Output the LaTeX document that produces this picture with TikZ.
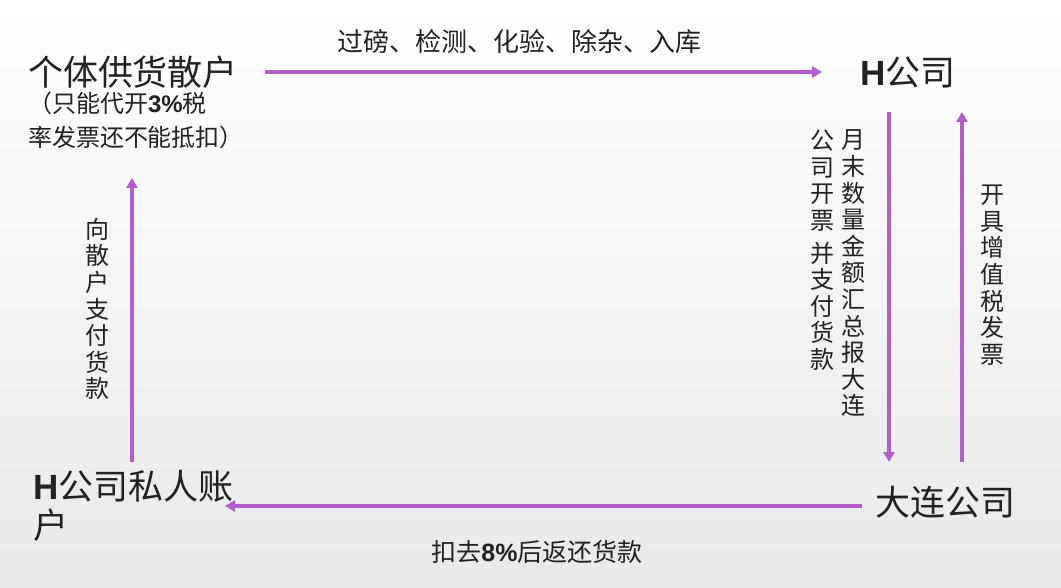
\documentclass[tikz,border=0pt]{standalone}
\usepackage{fontspec}
\setmainfont{Noto Sans CJK SC}
\newfontfamily\lat{Liberation Sans}
\usetikzlibrary{arrows.meta}
\definecolor{arrowc}{HTML}{B35DC9}
\definecolor{txt}{HTML}{222222}
\begin{document}
\begin{tikzpicture}[x=1pt,y=-1pt,
  every node/.style={inner sep=0pt,outer sep=0pt,text=txt},
  big/.style={font=\fontsize{35}{39}\selectfont},
  mid/.style={font=\fontsize{24}{34}\selectfont},
  vcol/.style={font=\fontsize{24}{26.6}\selectfont,align=center,anchor=north},
  arr/.style={draw=arrowc,line width=3.5pt,-{Triangle[length=10pt,width=11pt]}}]
\shade[top color=white,bottom color={rgb,255:red,232;green,233;blue,235}] (0,0) rectangle (1061,588);
\useasboundingbox (0,0) rectangle (1061,588);
% nodes
\node[big,anchor=west] (sanhu) at (28,72) {个体供货散户};
\node[mid,anchor=north west,align=left] (note) at (28,92) {（只能代开{\lat\bfseries 3\%}税\\率发票还不能抵扣）};
\node[big,anchor=west] (hco) at (860,72) {{\lat\bfseries H}公司};
\node[big,anchor=west] (dalian) at (875,502) {大连公司};
\node[big,anchor=north west,align=left] (hacct) at (33,470) {{\lat\bfseries H}公司私人账\\户};
% labels
\node[font=\fontsize{26}{30}\selectfont] (lbltop) at (519,42) {过磅、检测、化验、除杂、入库};
\node[font=\fontsize{25}{30}\selectfont] (lblbot) at (537,552) {扣去{\lat\bfseries 8\%}后返还货款};
\node[vcol] (c1) at (853,130) {月\\末\\数\\量\\金\\额\\汇\\总\\报\\大\\连};
\node[vcol] (c2) at (822,130) {公\\司\\开\\票\\[6pt]并\\支\\付\\货\\款};
\node[vcol] (c3) at (992,185) {开\\具\\增\\值\\税\\发\\票};
\node[vcol] (c4) at (97,218) {向\\散\\户\\支\\付\\货\\款};
% arrow endpoints
\coordinate (dTop) at (889,112);
\coordinate (dBot) at (889,462);
\coordinate (uBot) at (962,462);
\coordinate (uTop) at (962,112);
\coordinate (lBot) at (132,462);
\coordinate (lTop) at (132,178);
\coordinate (tS) at (265,72);
\coordinate (tE) at (822,72);
\coordinate (bS) at (862,506);
\coordinate (bE) at (225,506);
% connectors
\draw[arr] (tS) -- (tE);
\draw[arr] (dTop) -- (dBot);
\draw[arr] (uBot) -- (uTop);
\draw[arr] (lBot) -- (lTop);
\draw[arr] (bS) -- (bE);
\end{tikzpicture}
\end{document}
